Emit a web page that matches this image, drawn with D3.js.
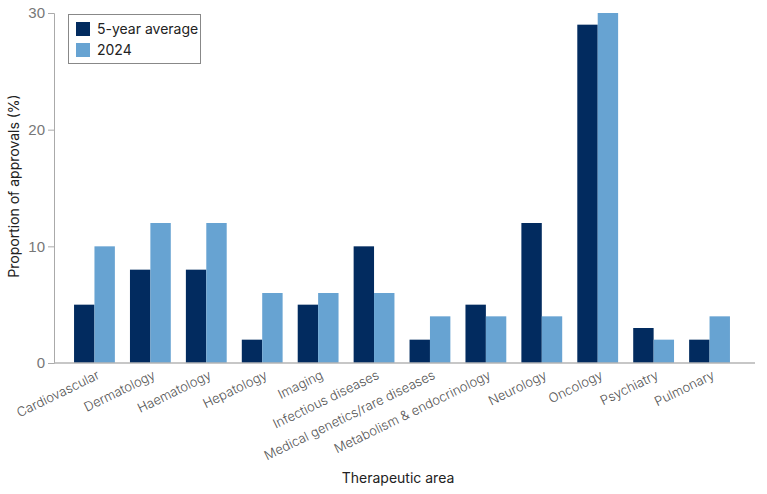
<!DOCTYPE html>
<html>
<head>
<meta charset="utf-8">
<script src="https://cdn.jsdelivr.net/npm/d3@7"></script>
<style>
  body { margin: 0; background: #fff; }
  svg { font-family: Inter, Roboto, sans-serif; }
</style>
</head>
<body>
<svg id="chart" width="767" height="494"></svg>
<script>
const areas = ['Cardiovascular', 'Dermatology', 'Haematology', 'Hepatology', 'Imaging',
    'Infectious diseases', 'Medical genetics/rare diseases', 'Metabolism & endocrinology',
    'Neurology', 'Oncology', 'Psychiatry', 'Pulmonary']
const avg5yr = [5, 8, 8, 2, 5, 10, 2, 5, 12, 29, 3, 2]
const y2024 = [10, 12, 12, 6, 6, 6, 4, 4, 4, 30, 2, 4]
const seriesNames = ['5-year average', '2024']
const yTicks = [0, 10, 20, 30]

const colors = ['#022b5f', '#67a3d2']
const svg = d3.select('#chart')

const x = d3.scaleBand().domain(areas).range([66.5, 737.5])
    .paddingInner(0.27).paddingOuter(0.135)
const xs = d3.scaleBand().domain(seriesNames).range([0, x.bandwidth()])
const y = d3.scaleLinear().domain([0, 30]).range([363, 13])

// bars
const groups = svg.append('g').selectAll('g')
    .data(areas)
    .join('g')
    .attr('transform', d => `translate(${x(d)},0)`)

groups.selectAll('rect')
    .data((d, i) => [avg5yr[i], y2024[i]].map((v, j) => ({ s: seriesNames[j], v, j })))
    .join('rect')
    .attr('x', d => xs(d.s))
    .attr('y', d => y(d.v))
    .attr('width', xs.bandwidth())
    .attr('height', d => y(0) - y(d.v))
    .attr('fill', d => colors[d.j])

// y axis
const yAxis = svg.append('g')
    .attr('transform', 'translate(54,0)')
    .call(d3.axisLeft(y).tickValues(yTicks).tickSize(6).tickPadding(3))
yAxis.select('.domain').attr('stroke', '#aaa')
yAxis.selectAll('.tick line').attr('stroke', '#aaa')
yAxis.selectAll('.tick text')
    .attr('fill', '#777').attr('font-size', 15).attr('font-weight', 300)

// x axis line
svg.append('line')
    .attr('x1', 54).attr('x2', 755)
    .attr('y1', y(0)).attr('y2', y(0))
    .attr('stroke', '#b5b5b5').attr('stroke-width', 1.5)

// x labels
svg.append('g').selectAll('text')
    .data(areas)
    .join('text')
    .attr('transform', d => `translate(${x(d) + x.bandwidth() / 2 + 6},378) rotate(-26)`)
    .attr('text-anchor', 'end')
    .attr('font-size', 13)
    .attr('font-weight', 300)
    .attr('fill', '#555')
    .text(d => d)

// axis titles
svg.append('text')
    .attr('x', 398).attr('y', 483)
    .attr('text-anchor', 'middle')
    .attr('font-size', 14)
    .attr('fill', '#222')
    .text('Therapeutic area')

svg.append('text')
    .attr('transform', 'translate(19,186) rotate(-90)')
    .attr('text-anchor', 'middle')
    .attr('font-size', 14)
    .attr('fill', '#222')
    .text('Proportion of approvals (%)')

// legend
const legend = svg.append('g').attr('transform', 'translate(68,14)')
legend.append('rect')
    .attr('x', 0.5).attr('y', 0.5).attr('width', 132).attr('height', 49)
    .attr('fill', '#fff').attr('stroke', '#888')
seriesNames.forEach((s, i) => {
    legend.append('rect')
        .attr('x', 8).attr('y', 8 + i * 21)
        .attr('width', 14).attr('height', 14)
        .attr('fill', colors[i])
    legend.append('text')
        .attr('x', 29).attr('y', 20 + i * 21)
        .attr('font-size', 14)
        .attr('fill', '#222')
        .text(s)
})
</script>
</body>
</html>
